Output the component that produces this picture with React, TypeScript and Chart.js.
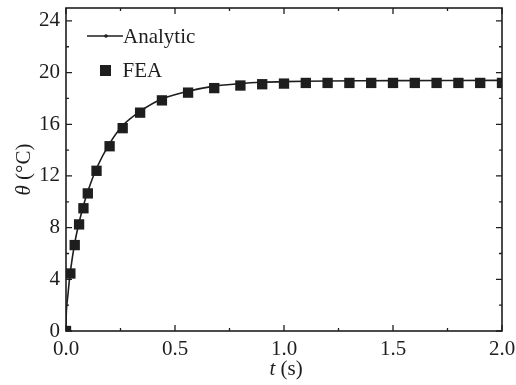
import React, { useEffect, useRef } from "react";
import { Chart, registerables } from "chart.js";

Chart.register(...registerables);

// FEA samples (t in s, theta in °C)
const feaT = [0, 0.02, 0.04, 0.06, 0.08, 0.1, 0.14, 0.2, 0.26, 0.34, 0.44, 0.56, 0.68, 0.8, 0.9, 1.0, 1.1, 1.2, 1.3, 1.4, 1.5, 1.6, 1.7, 1.8, 1.9, 2.0];
const feaTheta = [0, 4.45, 6.65, 8.25, 9.5, 10.65, 12.4, 14.3, 15.7, 16.9, 17.85, 18.45, 18.8, 19.0, 19.1, 19.15, 19.2, 19.2, 19.2, 19.2, 19.2, 19.2, 19.2, 19.2, 19.2, 19.2];

// Analytic curve
const anT = [0, 0.002, 0.01, 0.02, 0.04, 0.06, 0.08, 0.1, 0.14, 0.2, 0.26, 0.34, 0.44, 0.56, 0.68, 0.8, 0.9, 1.0, 1.2, 1.5, 2.0];
const anTheta = [0, 1.6, 3.0, 4.6, 6.8, 8.4, 9.7, 10.8, 12.6, 14.5, 15.9, 17.0, 17.95, 18.55, 18.95, 19.15, 19.25, 19.3, 19.35, 19.38, 19.4];

const xTicks = [0, 0.5, 1.0, 1.5, 2.0];
const xMinorTicks = [0.25, 0.75, 1.25, 1.75];
const yTicks = [0, 4, 8, 12, 16, 20, 24];
const yMinorTicks = [2, 6, 10, 14, 18, 22];

const seriesNames = ["Analytic", "FEA"];

const INK = "#1e1e1e";
const FONT = "'Liberation Serif', 'DejaVu Serif', serif";
const FS = 21;

const zeroPad = (s: any) => {
  s.paddingTop = 0;
  s.paddingBottom = 0;
  s.paddingLeft = 0;
  s.paddingRight = 0;
};

const framePlugin = {
  id: "frame",
  afterDraw(chart: any) {
    const { ctx, chartArea: a, scales } = chart;
    const xs = scales.x;
    const ys = scales.y;
    ctx.save();
    ctx.strokeStyle = INK;
    ctx.lineWidth = 1.6;
    ctx.strokeRect(a.left, a.top, a.right - a.left, a.bottom - a.top);
    ctx.lineWidth = 1.3;
    const tickX = (v: number, len: number) => {
      const px = xs.getPixelForValue(v);
      ctx.beginPath();
      ctx.moveTo(px, a.bottom);
      ctx.lineTo(px, a.bottom - len);
      ctx.moveTo(px, a.top);
      ctx.lineTo(px, a.top + len);
      ctx.stroke();
    };
    const tickY = (v: number, len: number) => {
      const py = ys.getPixelForValue(v);
      ctx.beginPath();
      ctx.moveTo(a.left, py);
      ctx.lineTo(a.left + len, py);
      ctx.moveTo(a.right, py);
      ctx.lineTo(a.right - len, py);
      ctx.stroke();
    };
    xTicks.forEach((v) => tickX(v, 6));
    xMinorTicks.forEach((v) => tickX(v, 3));
    yTicks.forEach((v) => tickY(v, 6));
    yMinorTicks.forEach((v) => tickY(v, 3));

    // Legend
    ctx.fillStyle = INK;
    ctx.strokeStyle = INK;
    ctx.lineWidth = 1.5;
    const ly1 = 36;
    ctx.beginPath();
    ctx.moveTo(87, ly1);
    ctx.lineTo(123, ly1);
    ctx.stroke();
    ctx.beginPath();
    ctx.arc(106, ly1, 1.8, 0, Math.PI * 2);
    ctx.fill();
    ctx.font = `${FS}px ${FONT}`;
    ctx.textBaseline = "middle";
    ctx.textAlign = "left";
    ctx.fillText(seriesNames[0], 123, ly1 + 1);
    const ly2 = 70.5;
    ctx.fillRect(100, ly2 - 5.5, 11, 11);
    ctx.fillText(seriesNames[1], 122.5, ly2 + 1);

    // Axis titles
    ctx.textAlign = "left";
    ctx.textBaseline = "middle";
    const xc = (a.left + a.right) / 2 + 2;
    ctx.font = `italic ${FS}px ${FONT}`;
    const tW = ctx.measureText("t").width;
    ctx.font = `${FS}px ${FONT}`;
    const rest = " (s)";
    const rW = ctx.measureText(rest).width;
    const startX = xc - (tW + rW) / 2;
    const ty = 369;
    ctx.font = `italic ${FS}px ${FONT}`;
    ctx.fillText("t", startX, ty);
    ctx.font = `${FS}px ${FONT}`;
    ctx.fillText(rest, startX + tW, ty);

    ctx.save();
    ctx.translate(24, (a.top + a.bottom) / 2);
    ctx.rotate(-Math.PI / 2);
    ctx.font = `italic ${FS}px ${FONT}`;
    const thW = ctx.measureText("θ").width;
    ctx.font = `${FS}px ${FONT}`;
    const rest2 = " (°C)";
    const r2W = ctx.measureText(rest2).width;
    const sx = -(thW + r2W) / 2;
    ctx.font = `italic ${FS}px ${FONT}`;
    ctx.fillText("θ", sx, 0);
    ctx.font = `${FS}px ${FONT}`;
    ctx.fillText(rest2, sx + thW, 0);
    ctx.restore();

    ctx.restore();
  },
};

export default function App() {
  const ref = useRef<HTMLCanvasElement | null>(null);
  useEffect(() => {
    if (!ref.current) return;
    const chart = new Chart(ref.current, {
      type: "scatter",
      data: {
        datasets: [
          {
            label: seriesNames[0],
            data: anT.map((t, i) => ({ x: t, y: anTheta[i] })),
            showLine: true,
            borderColor: INK,
            borderWidth: 1.6,
            pointRadius: 0,
            tension: 0.3,
            clip: 0,
          } as any,
          {
            label: seriesNames[1],
            data: feaT.map((t, i) => ({ x: t, y: feaTheta[i] })),
            showLine: false,
            pointStyle: "rect",
            pointRadius: 7.3,
            backgroundColor: INK,
            borderColor: INK,
            borderWidth: 0,
            clip: 0,
          } as any,
        ],
      },
      options: {
        animation: false,
        responsive: false,
        maintainAspectRatio: false,
        layout: { padding: { top: 8, right: 14, left: 0, bottom: 0 } },
        plugins: {
          legend: { display: false },
          tooltip: { enabled: false },
        },
        scales: {
          x: {
            type: "linear",
            min: 0,
            max: 2,
            grid: { display: false, drawTicks: false },
            border: { display: false },
            afterBuildTicks: (s: any) => {
              s.ticks = xTicks.map((v) => ({ value: v }));
            },
            afterFit: (s: any) => {
              s.height = 54;
              zeroPad(s);
            },
            ticks: {
              color: INK,
              padding: 6,
              maxRotation: 0,
              font: { family: FONT, size: FS },
              callback: (v: any) => Number(v).toFixed(1),
            },
          },
          y: {
            type: "linear",
            min: 0,
            max: 25,
            grid: { display: false, drawTicks: false },
            border: { display: false },
            afterBuildTicks: (s: any) => {
              s.ticks = yTicks.map((v) => ({ value: v }));
            },
            afterFit: (s: any) => {
              s.width = 66;
              zeroPad(s);
            },
            ticks: {
              color: INK,
              padding: 6,
              font: { family: FONT, size: FS },
              callback: (v: any) => String(v),
            },
          },
        },
      },
      plugins: [framePlugin],
    });
    return () => chart.destroy();
  }, []);
  return (
    <div style={{ position: "fixed", left: 0, top: 0, width: 516, height: 385, background: "#fff" }}>
      <canvas ref={ref} width={516} height={385} style={{ width: 516, height: 385 }} />
    </div>
  );
}
